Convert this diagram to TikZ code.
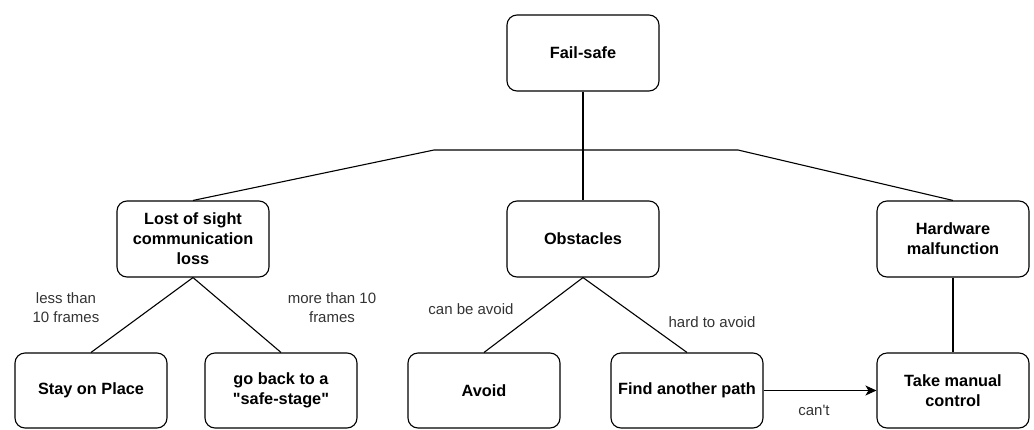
\documentclass[tikz,border=0pt]{standalone}
\usepackage{fontspec}
\setmainfont{Liberation Sans}
\usepackage{tikz}
\usetikzlibrary{arrows.meta}

\begin{document}
\begin{tikzpicture}[x=1pt, y=-1pt, line width=1.1pt,
  box/.style={draw, rounded corners=10pt, minimum width=152pt, minimum height=76pt,
    inner sep=2pt, align=center, font=\fontsize{16.3}{20}\selectfont\bfseries},
  lbl/.style={align=center, text=black!80, font=\fontsize{15}{19}\selectfont}]
\useasboundingbox (0,0) rectangle (1034,429);
% top level
\node[box] (failsafe) at (583,53) {Fail-safe};
% second level
\node[box] (lost) at (193,239) {Lost of sight\\communication\\loss};
\node[box] (obstacles) at (583,239) {Obstacles};
\node[box] (hardware) at (953,239) {Hardware\\malfunction};
% leaves
\node[box, minimum height=75pt] (stay) at (91,390.5) {Stay on Place};
\node[box, minimum height=75pt] (goback) at (281,390.5) {go back to a\\\textquotedbl safe-stage\textquotedbl};
\node[box, minimum height=75pt] (avoid) at (484,390.5) {Avoid};
\node[box, minimum height=75pt] (findpath) at (687,390.5) {Find another path};
\node[box, minimum height=75pt] (manual) at (953,390.5) {Take manual\\control};
% connectors
\coordinate (busL) at (434,150);
\coordinate (busR) at (738,150);
\draw (failsafe.south) -- (obstacles.north);
\draw (lost.north) -- (busL) -- (busR) -- (hardware.north);
\draw (lost.south) -- (stay.north);
\draw (lost.south) -- (goback.north);
\draw (obstacles.south) -- (avoid.north);
\draw (obstacles.south) -- (findpath.north);
\draw (hardware.south) -- (manual.north);
\draw[-{Stealth[length=11pt, width=10pt, inset=3pt]}] (findpath.east) -- (manual.west);
% edge labels
\node[lbl] (lessten) at (66,308) {less than\\10 frames};
\node[lbl] (moreten) at (332,308) {more than 10\\frames};
\node[lbl] (canavoid) at (471,309) {can be avoid};
\node[lbl] (hardavoid) at (712,322) {hard to avoid};
\node[lbl] (cant) at (814,410) {can\textquotesingle t};
\end{tikzpicture}
\end{document}
